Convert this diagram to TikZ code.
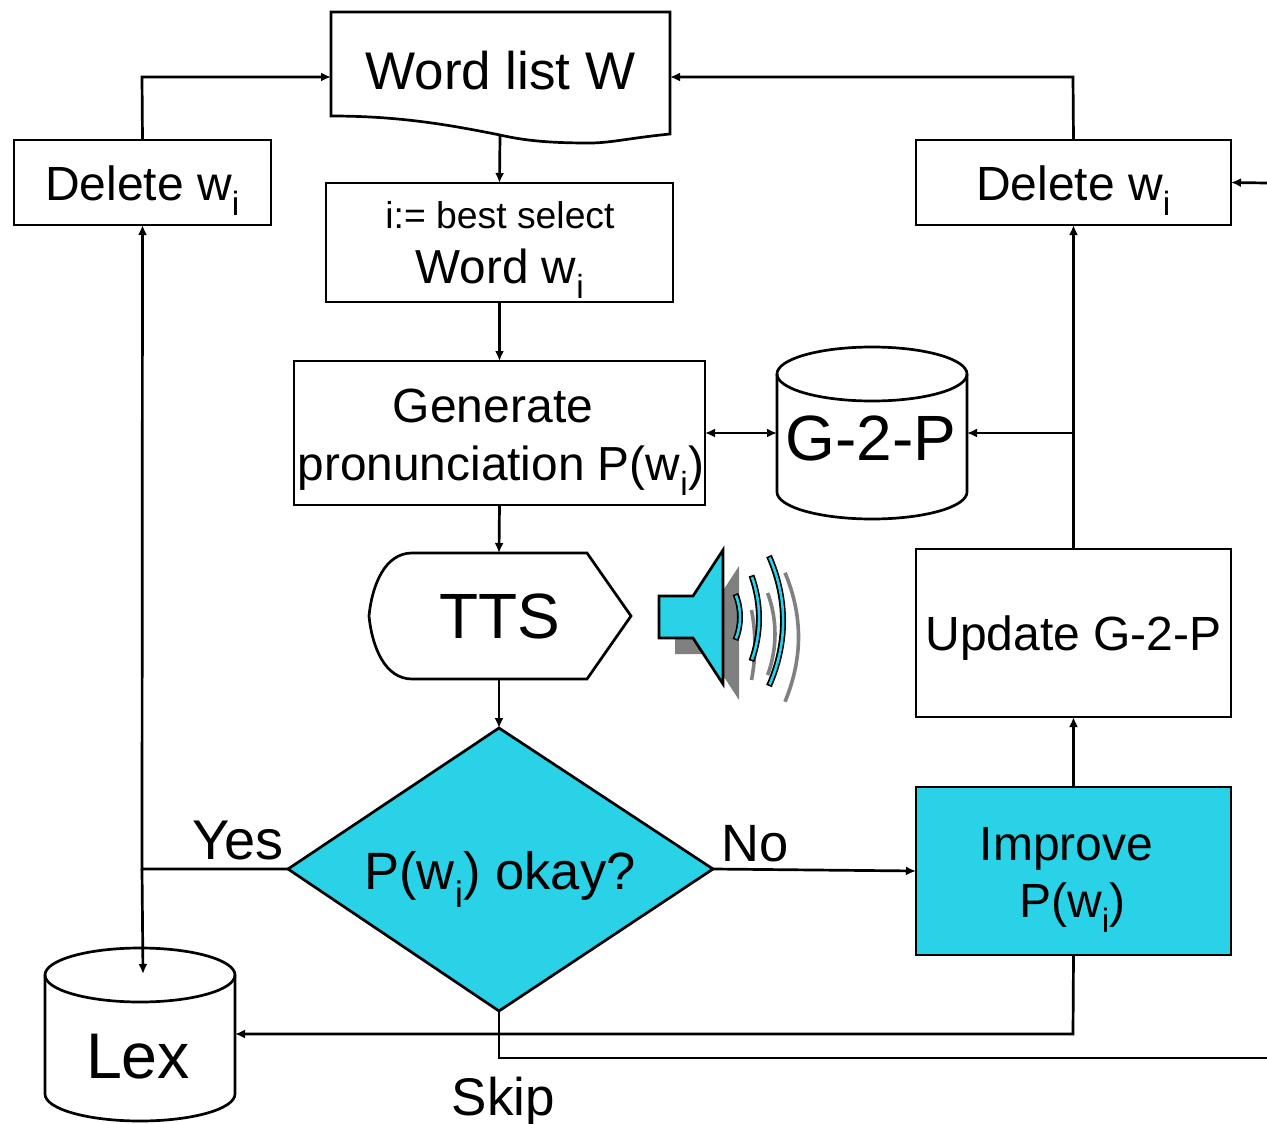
\documentclass[tikz,border=0pt]{standalone}
\usepackage{fontspec}
\setmainfont{Liberation Sans}
\usetikzlibrary{arrows.meta}
\definecolor{flowcyan}{RGB}{41,210,230}
\definecolor{greyshade}{RGB}{128,128,128}
\newcommand{\subi}{\textsubscript{i}}
\newcommand{\fsz}[1]{\fontsize{#1}{#1}\selectfont}
\tikzset{
  box/.style={draw=black,line width=2.7pt,fill=white,inner sep=0pt,outer sep=0pt,rectangle},
  lbl/.style={anchor=base,inner sep=0pt,outer sep=0pt,text=black},
  link/.style={draw=black,line width=2.7pt,-{Latex[length=10pt,width=9pt]}},
  plainlink/.style={draw=black,line width=2.7pt},
  solid outline/.style={draw=black,line width=2.7pt,line join=miter},
  wavein/.style={draw=black,line width=6pt},
  wavecore/.style={draw=flowcyan,line width=2.6pt},
  waveshade/.style={draw=greyshade,line width=3.6pt}
}
\begin{document}
\begin{tikzpicture}[x=1pt,y=-1pt]
\useasboundingbox (0,0) rectangle (1267,1124);
% free ends and junctions
\coordinate (rightin) at (1267,183);
\coordinate (rightout) at (1267,1058);
\coordinate (listbottom) at (500,136);
\coordinate (listleft) at (331,77);
\coordinate (listright) at (670,77);
\coordinate (topl) at (142,77);
\coordinate (topr) at (1073,77);
\coordinate (junction) at (1073,433);
\coordinate (yesturn) at (142,869);
\coordinate (lexdrop) at (143,974);
\coordinate (gleft) at (777,433);
\coordinate (gright) at (967,433);
\coordinate (lexright) at (235,1034);
\coordinate (improveturn) at (1073,1034);
\coordinate (skipturn) at (499,1058);
% shapes
\path[solid outline,fill=white] (331,12) -- (670,12) -- (670,134) .. controls (630,138) and (610,143) .. (590,143) .. controls (560,143) and (530,142) .. (500,135) .. controls (450,125) and (400,116) .. (331,116) -- cycle;
\node[box,minimum width=257pt,minimum height=85pt] (dell) at (142.5,182.5) {};
\node[box,minimum width=315pt,minimum height=85pt] (delr) at (1073.5,182.5) {};
\node[box,minimum width=347pt,minimum height=119pt] (best) at (499.5,242.5) {};
\node[box,minimum width=411pt,minimum height=144pt] (gen) at (499.5,433) {};
\node[box,minimum width=315pt,minimum height=168pt] (upd) at (1073.5,633) {};
\node[box,fill=flowcyan,minimum width=315pt,minimum height=168pt] (imp) at (1073.5,871) {};
% G-2-P cylinder
\path[solid outline,fill=white] (777,374) arc[start angle=180,end angle=0,x radius=95,y radius=-27] -- (967,492) arc[start angle=0,end angle=-180,x radius=95,y radius=-27] -- cycle;
\draw[solid outline] (777,374) arc[start angle=180,end angle=360,x radius=95,y radius=-27];
% Lex cylinder
\path[solid outline,fill=white] (45,975) arc[start angle=180,end angle=0,x radius=95,y radius=-27] -- (235,1094) arc[start angle=0,end angle=-180,x radius=95,y radius=-27] -- cycle;
\draw[solid outline] (45,975) arc[start angle=180,end angle=360,x radius=95,y radius=-27];
% TTS display
\path[solid outline,fill=white] (369,616) .. controls (372,585) and (385,553) .. (412,553) -- (587,553) -- (631,616) -- (587,679) -- (412,679) .. controls (385,679) and (372,647) .. (369,616) -- cycle;
\coordinate (ttstop) at (499,553);
\coordinate (ttsbot) at (499,679);
% decision
\coordinate (dl) at (288,869);
\coordinate (dt) at (499,728);
\coordinate (dr) at (713,869);
\coordinate (db) at (499,1011);
\path[solid outline,fill=flowcyan] (dl) -- (dt) -- (dr) -- (db) -- cycle;
% speaker
\fill[greyshade] (675,612) -- (709,612) -- (739,566) -- (739,700) -- (709,654) -- (675,654) -- cycle;
\draw[waveshade] (751.5,610) .. controls (756,633) and (756,657) .. (751.5,680);
\draw[waveshade] (767.7,593) .. controls (777.4,620) and (777.4,648) .. (767.7,675);
\draw[waveshade] (785,572.7) .. controls (803,616) and (803,658) .. (785,701.7);
\path[solid outline,fill=flowcyan] (659,596) -- (693,596) -- (723,550) -- (723,684) -- (693,638) -- (659,638) -- cycle;
\draw[wavein] (735.5,594) .. controls (741.5,609) and (741.5,625) .. (735.5,640);
\draw[wavecore] (735.9,595.5) .. controls (741.5,609) and (741.5,625) .. (735.9,638.5);
\draw[wavein] (751.5,575.5) .. controls (761.5,604) and (761.5,633) .. (751.5,661);
\draw[wavecore] (752,577) .. controls (761.5,604) and (761.5,633) .. (752,659.5);
\draw[wavein] (769,556) .. controls (787.7,599) and (787.7,643) .. (769,686);
\draw[wavecore] (769.6,557.5) .. controls (787.7,599) and (787.7,643) .. (769.6,684.5);
% connectors
\draw[link] (dell.north) -- (topl) -- (listleft);
\draw[link] (delr.north) -- (topr) -- (listright);
\draw[link] (rightin) -- (delr.east);
\draw[link] (listbottom) -- (best.north);
\draw[link] (best.south) -- (gen.north);
\draw[link,{Latex[length=10pt,width=9pt]}-{Latex[length=10pt,width=9pt]}] (gen.east |- gleft) -- (gleft);
\draw[link] (gen.south) -- (ttstop);
\draw[link] (ttsbot) -- (dt);
\draw[link] (upd.north) -- (delr.south);
\draw[link] (junction) -- (gright);
\draw[link] (imp.north) -- (upd.south);
\draw[link] (dr) -- (imp.west);
\draw[link] (dl) -- (yesturn) -- (dell.south);
\draw[link] (yesturn) -- (lexdrop);
\draw[link] (imp.south) -- (improveturn) -- (lexright);
\draw[plainlink] (db) -- (skipturn) -- (rightout);
% labels
\node[lbl,font=\fsz{53}] (tlist) at (500.5,90) {Word list W};
\node[lbl,font=\fsz{48}] (tdell) at (142.5,200) {Delete w\subi};
\node[lbl,font=\fsz{48}] (tdelr) at (1073.5,200) {Delete w\subi};
\node[lbl,font=\fsz{37.3}] (tbest1) at (500,228) {i:= best select};
\node[lbl,font=\fsz{47.7}] (tbest2) at (500,283) {Word w\subi};
\node[lbl,font=\fsz{48}] (tgen1) at (493,422) {Generate};
\node[lbl,font=\fsz{47.8}] (tgen2) at (501,480) {pronunciation P(w\subi)};
\node[lbl,font=\fsz{64}] (tg2p) at (871,460) {G-2-P};
\node[lbl,font=\fsz{64}] (ttts) at (499.5,638.5) {TTS};
\node[lbl,font=\fsz{48}] (tupd) at (1073.5,650) {Update G-2-P};
\node[lbl,font=\fsz{48}] (timp1) at (1066.5,860) {Improve};
\node[lbl,font=\fsz{48}] (timp2) at (1072.5,917) {P(w\subi)};
\node[lbl,font=\fsz{52.5}] (tok) at (500,889) {P(w\subi) okay?};
\node[lbl,font=\fsz{64.5}] (tlex) at (138,1078.5) {Lex};
\node[lbl,font=\fsz{56}] (tyes) at (238,859) {Yes};
\node[lbl,font=\fsz{52.5}] (tno) at (755,861) {No};
\node[lbl,font=\fsz{53}] (tskip) at (503.5,1115) {Skip};
\end{tikzpicture}
\end{document}
